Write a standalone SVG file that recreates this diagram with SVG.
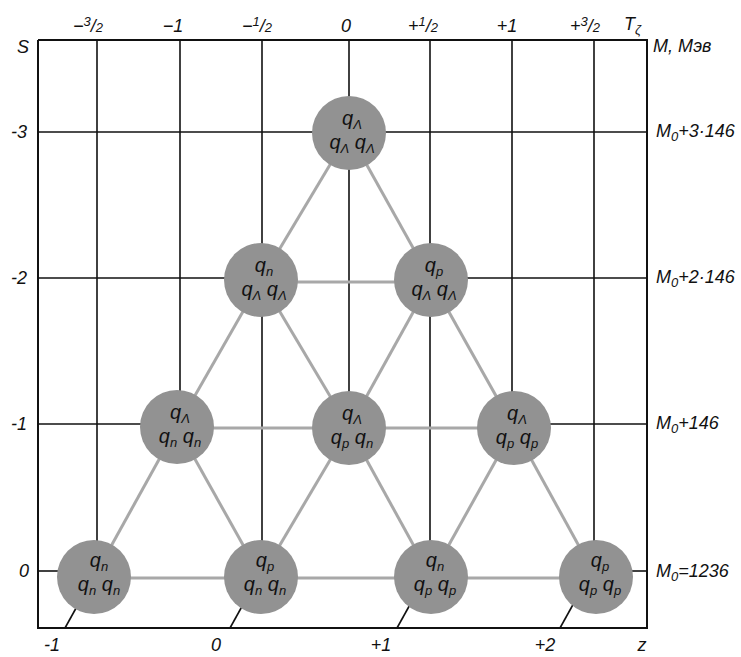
<svg xmlns="http://www.w3.org/2000/svg" width="741" height="657" viewBox="0 0 741 657">
<style>
.t{font-family:"Liberation Sans",Arial,sans-serif;font-style:italic;fill:#111;}
.lab{font-size:18px;}
.q{font-size:20px;}
.sub{font-size:13px;}
.grid{stroke:#111;stroke-width:1.6;fill:none;}
.frame{stroke:#111;stroke-width:2;fill:none;}
.edge{stroke:#a8a8a8;stroke-width:3;fill:none;}
.node circle{fill:#929292;}
</style>
<rect width="741" height="657" fill="#fff"/>
<g id="frame">
<polyline class="frame" points="38,40 647,40 647,628 38,628 38,40"/>
</g>
<g id="grid">
<line class="grid" x1="97" y1="40" x2="97" y2="545"/>
<line class="grid" x1="180" y1="40" x2="180" y2="400"/>
<line class="grid" x1="262" y1="40" x2="262" y2="550"/>
<line class="grid" x1="349" y1="40" x2="349" y2="400"/>
<line class="grid" x1="430" y1="40" x2="430" y2="550"/>
<line class="grid" x1="512" y1="40" x2="512" y2="400"/>
<line class="grid" x1="594" y1="40" x2="594" y2="550"/>
<line class="grid" x1="38" y1="132" x2="647" y2="132"/>
<line class="grid" x1="38" y1="278" x2="240" y2="278"/>
<line class="grid" x1="455" y1="278" x2="647" y2="278"/>
<line class="grid" x1="38" y1="424" x2="160" y2="424"/>
<line class="grid" x1="530" y1="424" x2="647" y2="424"/>
<line class="grid" x1="38" y1="571" x2="70" y2="571"/>
<line class="grid" x1="620" y1="571" x2="647" y2="571"/>
<line class="grid" x1="65" y1="628" x2="80" y2="601"/>
<line class="grid" x1="230" y1="628" x2="245" y2="601"/>
<line class="grid" x1="397" y1="628" x2="412" y2="601"/>
<line class="grid" x1="560" y1="628" x2="575" y2="601"/>
</g>
<g id="connectors">
<line class="edge" x1="349" y1="133" x2="261" y2="280"/>
<line class="edge" x1="349" y1="133" x2="431" y2="280"/>
<line class="edge" x1="261" y1="282" x2="431" y2="282"/>
<line class="edge" x1="261" y1="280" x2="177" y2="427"/>
<line class="edge" x1="261" y1="280" x2="349" y2="428"/>
<line class="edge" x1="431" y1="280" x2="349" y2="428"/>
<line class="edge" x1="431" y1="280" x2="514" y2="428"/>
<line class="edge" x1="177" y1="428" x2="514" y2="428"/>
<line class="edge" x1="177" y1="427" x2="94" y2="577"/>
<line class="edge" x1="177" y1="427" x2="261" y2="577"/>
<line class="edge" x1="349" y1="428" x2="261" y2="577"/>
<line class="edge" x1="349" y1="428" x2="431" y2="577"/>
<line class="edge" x1="514" y1="428" x2="431" y2="577"/>
<line class="edge" x1="514" y1="428" x2="596" y2="577"/>
<line class="edge" x1="94" y1="578" x2="596" y2="578"/>
</g>
<g id="n_0_-3" class="node"><circle cx="349" cy="133" r="37"/>
<text class="t q" x="352" y="125" text-anchor="middle">q<tspan class="sub" dy="4">Λ</tspan></text>
<text class="t q" x="352" y="149" text-anchor="middle">q<tspan class="sub" dy="4">Λ</tspan><tspan dy="-4"> q</tspan><tspan class="sub" dy="4">Λ</tspan></text></g>
<g id="n_-0.5_-2" class="node"><circle cx="261" cy="280" r="37"/>
<text class="t q" x="264" y="272" text-anchor="middle">q<tspan class="sub" dy="4">n</tspan></text>
<text class="t q" x="264" y="296" text-anchor="middle">q<tspan class="sub" dy="4">Λ</tspan><tspan dy="-4"> q</tspan><tspan class="sub" dy="4">Λ</tspan></text></g>
<g id="n_0.5_-2" class="node"><circle cx="431" cy="280" r="37"/>
<text class="t q" x="434" y="272" text-anchor="middle">q<tspan class="sub" dy="4">p</tspan></text>
<text class="t q" x="434" y="296" text-anchor="middle">q<tspan class="sub" dy="4">Λ</tspan><tspan dy="-4"> q</tspan><tspan class="sub" dy="4">Λ</tspan></text></g>
<g id="n_-1_-1" class="node"><circle cx="177" cy="427" r="37"/>
<text class="t q" x="180" y="419" text-anchor="middle">q<tspan class="sub" dy="4">Λ</tspan></text>
<text class="t q" x="180" y="443" text-anchor="middle">q<tspan class="sub" dy="4">n</tspan><tspan dy="-4"> q</tspan><tspan class="sub" dy="4">n</tspan></text></g>
<g id="n_0_-1" class="node"><circle cx="349" cy="428" r="37"/>
<text class="t q" x="352" y="420" text-anchor="middle">q<tspan class="sub" dy="4">Λ</tspan></text>
<text class="t q" x="352" y="444" text-anchor="middle">q<tspan class="sub" dy="4">p</tspan><tspan dy="-4"> q</tspan><tspan class="sub" dy="4">n</tspan></text></g>
<g id="n_1_-1" class="node"><circle cx="514" cy="428" r="37"/>
<text class="t q" x="517" y="420" text-anchor="middle">q<tspan class="sub" dy="4">Λ</tspan></text>
<text class="t q" x="517" y="444" text-anchor="middle">q<tspan class="sub" dy="4">p</tspan><tspan dy="-4"> q</tspan><tspan class="sub" dy="4">p</tspan></text></g>
<g id="n_-1.5_0" class="node"><circle cx="94" cy="577" r="37"/>
<text class="t q" x="99" y="567" text-anchor="middle">q<tspan class="sub" dy="4">n</tspan></text>
<text class="t q" x="99" y="591" text-anchor="middle">q<tspan class="sub" dy="4">n</tspan><tspan dy="-4"> q</tspan><tspan class="sub" dy="4">n</tspan></text></g>
<g id="n_-0.5_0" class="node"><circle cx="261" cy="577" r="37"/>
<text class="t q" x="265" y="567" text-anchor="middle">q<tspan class="sub" dy="4">p</tspan></text>
<text class="t q" x="265" y="591" text-anchor="middle">q<tspan class="sub" dy="4">n</tspan><tspan dy="-4"> q</tspan><tspan class="sub" dy="4">n</tspan></text></g>
<g id="n_0.5_0" class="node"><circle cx="431" cy="577" r="37"/>
<text class="t q" x="435" y="567" text-anchor="middle">q<tspan class="sub" dy="4">n</tspan></text>
<text class="t q" x="435" y="591" text-anchor="middle">q<tspan class="sub" dy="4">p</tspan><tspan dy="-4"> q</tspan><tspan class="sub" dy="4">p</tspan></text></g>
<g id="n_1.5_0" class="node"><circle cx="596" cy="577" r="37"/>
<text class="t q" x="600" y="567" text-anchor="middle">q<tspan class="sub" dy="4">p</tspan></text>
<text class="t q" x="600" y="591" text-anchor="middle">q<tspan class="sub" dy="4">p</tspan><tspan dy="-4"> q</tspan><tspan class="sub" dy="4">p</tspan></text></g>
<g id="labels">
<text class="t lab" x="88" y="32" text-anchor="middle">−<tspan class="sub" dy="-6">3</tspan><tspan dy="6">/</tspan><tspan class="sub">2</tspan></text>
<text class="t lab" x="173" y="32" text-anchor="middle">−1</text>
<text class="t lab" x="257" y="32" text-anchor="middle">−<tspan class="sub" dy="-6">1</tspan><tspan dy="6">/</tspan><tspan class="sub">2</tspan></text>
<text class="t lab" x="346" y="32" text-anchor="middle">0</text>
<text class="t lab" x="423" y="32" text-anchor="middle">+<tspan class="sub" dy="-6">1</tspan><tspan dy="6">/</tspan><tspan class="sub">2</tspan></text>
<text class="t lab" x="507" y="32" text-anchor="middle">+1</text>
<text class="t lab" x="585" y="32" text-anchor="middle">+<tspan class="sub" dy="-6">3</tspan><tspan dy="6">/</tspan><tspan class="sub">2</tspan></text>
<text class="t lab" x="624" y="30">T<tspan class="sub" dy="4">ζ</tspan></text>
<text class="t lab" x="653" y="52">M, Мэв</text>
<text class="t lab" x="17" y="53">S</text>
<text class="t lab" x="27" y="138" text-anchor="end">-3</text>
<text class="t lab" x="27" y="284" text-anchor="end">-2</text>
<text class="t lab" x="27" y="430" text-anchor="end">-1</text>
<text class="t lab" x="29" y="577" text-anchor="end">0</text>
<text class="t lab" x="656" y="137">M<tspan class="sub" dy="4">0</tspan><tspan dy="-4">+3·146</tspan></text>
<text class="t lab" x="656" y="283">M<tspan class="sub" dy="4">0</tspan><tspan dy="-4">+2·146</tspan></text>
<text class="t lab" x="656" y="429">M<tspan class="sub" dy="4">0</tspan><tspan dy="-4">+146</tspan></text>
<text class="t lab" x="656" y="577">M<tspan class="sub" dy="4">0</tspan><tspan dy="-4">=1236</tspan></text>
<text class="t lab" x="52" y="651" text-anchor="middle">-1</text>
<text class="t lab" x="216" y="651" text-anchor="middle">0</text>
<text class="t lab" x="381" y="651" text-anchor="middle">+1</text>
<text class="t lab" x="545" y="651" text-anchor="middle">+2</text>
<text class="t lab" x="642" y="651" text-anchor="middle">z</text>
</g>
</svg>
